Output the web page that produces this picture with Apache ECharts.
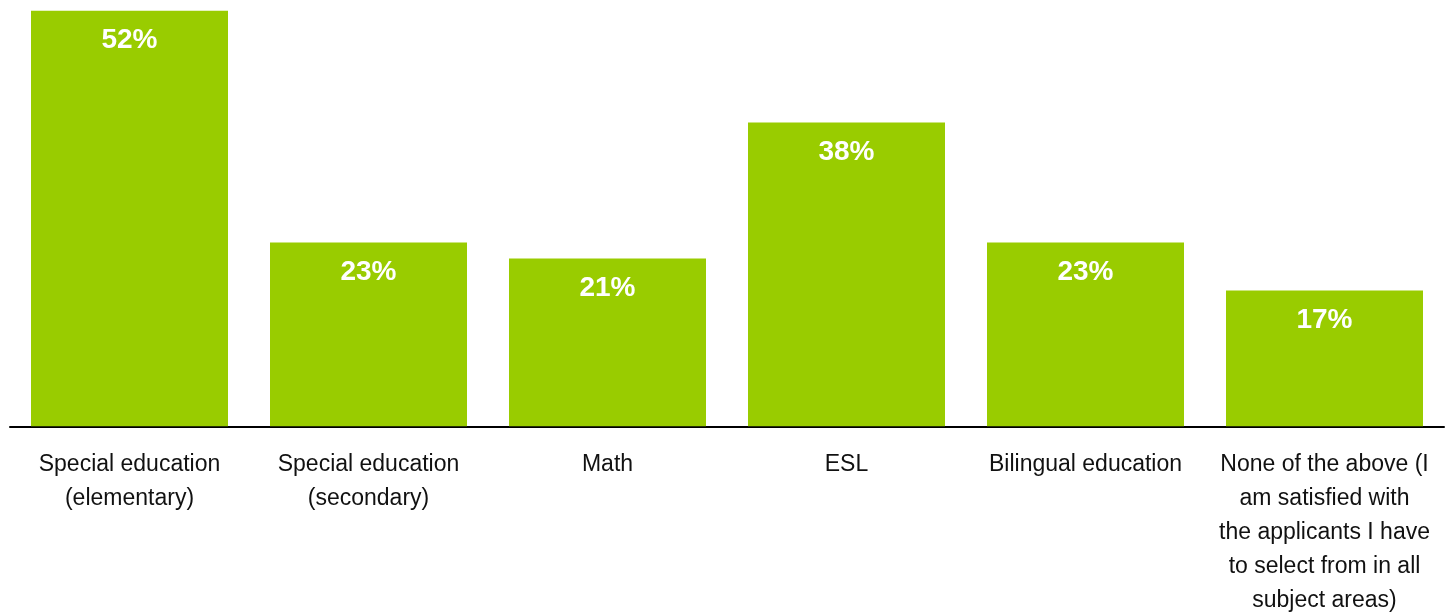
<!DOCTYPE html>
<html>
<head>
<meta charset="utf-8">
<script src="https://cdn.jsdelivr.net/npm/echarts@6/dist/echarts.min.js"></script>
<style>
  html, body { margin: 0; padding: 0; background: #ffffff; }
  #chart { width: 1449px; height: 612px; }
</style>
</head>
<body>
<div id="chart"></div>
<script>
// Subject areas where applicants are hard to find (% of respondents)
const categories = [
  'Special education\n(elementary)',
  'Special education\n(secondary)',
  'Math',
  'ESL',
  'Bilingual education',
  'None of the above (I\nam satisfied with\nthe applicants I have\nto select from in all\nsubject areas)'
];
const shares = [52, 23, 21, 38, 23, 17];

const chart = echarts.init(document.getElementById('chart'), null, { renderer: 'canvas' });

chart.setOption({
  animation: false,
  backgroundColor: '#ffffff',
  grid: {
    left: 10, right: 5, top: 10.7, bottom: 185.7,
    containLabel: false,
    outerBoundsMode: 'none'
  },
  xAxis: {
    type: 'category',
    data: categories,
    axisLine: { show: true, lineStyle: { color: '#000000', width: 2 } },
    axisTick: { show: false },
    axisLabel: {
      interval: 0,
      margin: 21,
      color: '#111111',
      fontFamily: '"Liberation Sans", Arial, sans-serif',
      fontSize: 23,
      lineHeight: 34,
      align: 'center'
    }
  },
  yAxis: {
    type: 'value',
    min: 0,
    max: 52,
    show: false,
    splitLine: { show: false }
  },
  series: [{
    type: 'bar',
    data: shares,
    barWidth: 197,
    itemStyle: { color: '#99cc00' },
    label: {
      show: true,
      position: 'insideTop',
      distance: 16,
      formatter: '{c}%',
      color: '#ffffff',
      fontFamily: '"Liberation Sans", Arial, sans-serif',
      fontWeight: 'bold',
      fontSize: 28
    }
  }]
});
</script>
</body>
</html>
